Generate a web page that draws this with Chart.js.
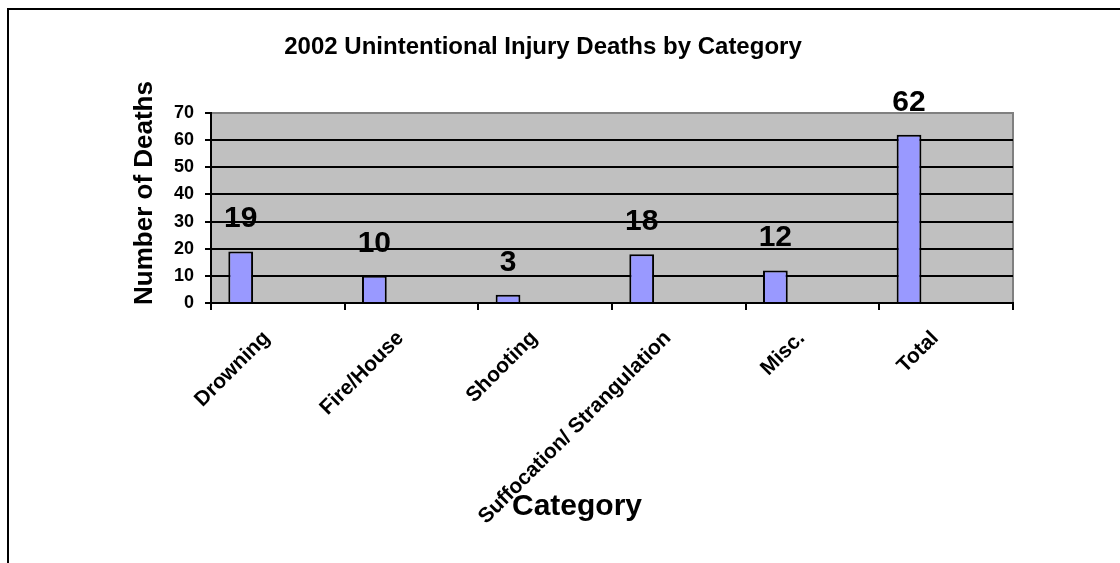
<!DOCTYPE html>
<html>
<head>
<meta charset="utf-8">
<script src="https://cdn.jsdelivr.net/npm/chart.js@4/dist/chart.umd.min.js"></script>
<style>
  html, body { margin: 0; padding: 0; background: #ffffff; }
  #wrap { position: relative; width: 1120px; height: 563px; }
  canvas { display: block; }
</style>
</head>
<body>
<div id="wrap"><canvas id="c" width="1120" height="563"></canvas></div>
<script>
// ---- data ----
const chartTitle = '2002 Unintentional Injury Deaths by Category';
const yAxisTitle = 'Number of Deaths';
const xAxisTitle = 'Category';
const categories = ['Drowning', 'Fire/House', 'Shooting', 'Suffocation/ Strangulation', 'Misc.', 'Total'];
const deaths = [19, 10, 3, 18, 12, 62];
// the original chart's other (empty) series, which reserve space in each category group
const series2 = [];
const series3 = [];
const series4 = [];
const yMin = 0, yMax = 70, yStep = 10;

const FONT = "'Liberation Sans', Arial, Helvetica, sans-serif";

const decorPlugin = {
  id: 'decor',
  beforeDraw(chart) {
    const ctx = chart.ctx;
    const a = chart.chartArea;
    ctx.save();
    // outer frame (left and top)
    ctx.fillStyle = '#000';
    ctx.fillRect(7, 8, 2, 563);
    ctx.fillRect(7, 8, 1113, 2);
    // plot area
    ctx.fillStyle = '#C0C0C0';
    ctx.fillRect(a.left, a.top, a.right - a.left, a.bottom - a.top);
    ctx.strokeStyle = '#808080';
    ctx.lineWidth = 2;
    ctx.beginPath();
    ctx.moveTo(a.left, a.top);
    ctx.lineTo(a.right, a.top);
    ctx.lineTo(a.right, a.bottom);
    ctx.stroke();
    ctx.restore();
  },
  afterDraw(chart) {
    const ctx = chart.ctx;
    ctx.save();
    ctx.fillStyle = '#000';
    // y axis title
    ctx.font = 'bold 26px ' + FONT;
    ctx.textAlign = 'center';
    ctx.textBaseline = 'alphabetic';
    ctx.translate(152, 193);
    ctx.rotate(-Math.PI / 2);
    ctx.fillText(yAxisTitle, 0, 0);
    ctx.restore();
    ctx.save();
    ctx.fillStyle = '#000';
    ctx.font = 'bold 30px ' + FONT;
    ctx.textAlign = 'center';
    ctx.textBaseline = 'alphabetic';
    ctx.fillText(xAxisTitle, 577, 515);
    ctx.restore();
  },
  afterDatasetsDraw(chart) {
    const ctx = chart.ctx;
    const meta = chart.getDatasetMeta(0);
    const data = chart.data.datasets[0].data;
    ctx.save();
    ctx.fillStyle = '#000';
    ctx.font = 'bold 30px ' + FONT;
    ctx.textAlign = 'center';
    ctx.textBaseline = 'alphabetic';
    meta.data.forEach((bar, i) => {
      ctx.fillText(String(data[i]), bar.x, bar.y - 24);
    });
    ctx.restore();
  }
};

new Chart(document.getElementById('c'), {
  type: 'bar',
  data: {
    labels: categories,
    datasets: [
      { label: 'Deaths', data: deaths, backgroundColor: '#9999FF', borderColor: '#000', borderWidth: 2, borderSkipped: 'bottom' },
      { label: 'Series 2', data: series2, backgroundColor: '#993366' },
      { label: 'Series 3', data: series3, backgroundColor: '#FFFFCC' },
      { label: 'Series 4', data: series4, backgroundColor: '#CCFFFF' }
    ]
  },
  options: {
    responsive: false,
    animation: false,
    devicePixelRatio: 1,
    categoryPercentage: 0.741,
    barPercentage: 1,
    layout: { padding: { top: 0, left: 0, right: 34, bottom: 0 } },
    plugins: {
      legend: { display: false },
      tooltip: { enabled: false },
      title: {
        display: true,
        text: chartTitle,
        color: '#000',
        font: { family: FONT, size: 24, weight: 'bold' },
        padding: { top: 33, bottom: 51.2 }
      }
    },
    scales: {
      x: {
        grid: { display: true, drawOnChartArea: false, drawTicks: true, tickLength: 7, color: '#000', lineWidth: 2, offset: true },
        border: { display: true, color: '#000', width: 2 },
        ticks: {
          color: '#000', font: { family: FONT, size: 21, weight: 'bold' },
          minRotation: 45, maxRotation: 45, autoSkip: false, padding: 16, labelOffset: -11
        },
        afterFit(s) { s.height = 260; }
      },
      y: {
        min: yMin, max: yMax,
        ticks: { stepSize: yStep, color: '#000', font: { family: FONT, size: 18, weight: 'bold' }, padding: 11 },
        grid: {
          color: (c) => (c.tick && c.tick.value === yMax ? '#808080' : '#000'),
          tickColor: '#000', lineWidth: 2, tickLength: 6
        },
        border: { display: true, color: '#000', width: 2 },
        afterFit(s) { s.width = 211; }
      },
      spacer: {
        type: 'linear', position: 'right', display: true,
        grid: { display: false, drawTicks: false },
        border: { display: false },
        ticks: { display: false },
        afterFit(s) { s.width = 73; }
      }
    }
  },
  plugins: [decorPlugin]
});
</script>
</body>
</html>
